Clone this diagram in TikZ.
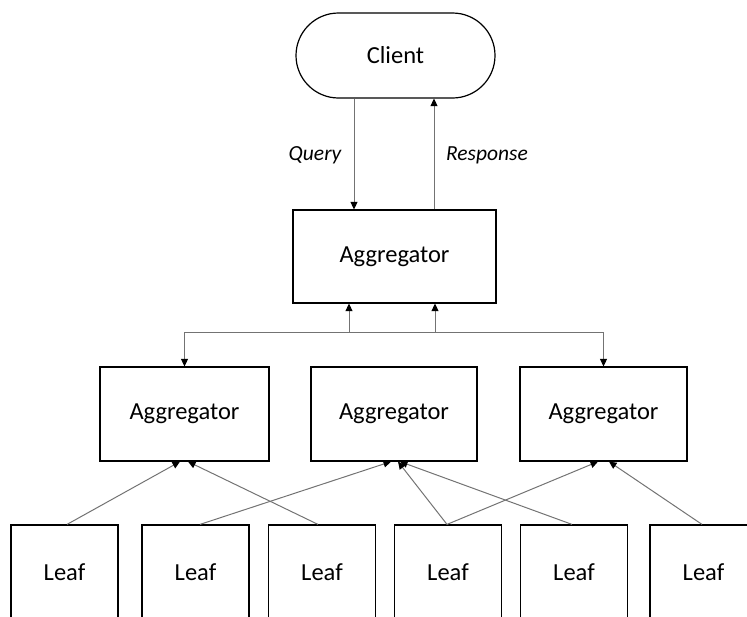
\documentclass[tikz,border=0pt]{standalone}
\usepackage{fontspec}
\setmainfont{Carlito}
\usetikzlibrary{arrows.meta,shapes.misc}

\tikzset{
  boxtext/.style={font=\fontsize{24.5}{29}\selectfont},
  labeltext/.style={font=\fontsize{21.5}{26}\selectfont\itshape},
  aggbox/.style={draw=black, line width=1.2pt, rectangle, inner sep=0pt, boxtext},
  leafbox/.style={draw=black, line width=1.2pt, rectangle, inner sep=0pt,
    minimum width=107pt, minimum height=94pt, boxtext},
  clientbox/.style={draw=black, line width=1.2pt, rounded rectangle, inner sep=0pt,
    minimum width=199pt, minimum height=85pt, boxtext},
  link/.style={draw=black!55, line width=1pt,
    -{Triangle[length=7.5pt,width=7pt,color=black]}},
  plainlink/.style={draw=black!55, line width=1pt}
}

\begin{document}
\begin{tikzpicture}[x=1pt, y=-1pt]
  \useasboundingbox (0,0) rectangle (747,616);
  \begin{scope}
    \clip (0,0) rectangle (747,616);

    % client and root aggregator
    \node[clientbox] (client) at (395.5,55.5) {Client};
    \node[aggbox, minimum width=203pt, minimum height=93pt] (root) at (394.5,256.5) {Aggregator};

    % middle aggregators
    \node[aggbox, minimum width=169pt, minimum height=94pt] (a1) at (184.5,414) {Aggregator};
    \node[aggbox, minimum width=166pt, minimum height=94pt] (a2) at (394,414) {Aggregator};
    \node[aggbox, minimum width=167pt, minimum height=94pt] (a3) at (603.5,414) {Aggregator};

    % leaves
    \node[leafbox] (l1) at (64.5,572) {Leaf};
    \node[leafbox] (l2) at (195.5,572) {Leaf};
    \node[leafbox] (l3) at (322,572) {Leaf};
    \node[leafbox] (l4) at (448,572) {Leaf};
    \node[leafbox] (l5) at (574,572) {Leaf};
    \node[leafbox] (l6) at (703.5,572) {Leaf};

    % query / response between client and root
    \draw[link] ([xshift=-41.5pt]client.south) -- ([xshift=-40.5pt]root.north);
    \draw[link] ([xshift=39.5pt]root.north) -- ([xshift=38.5pt]client.south);
    \node[labeltext] (q) at (315,155) {Query};
    \node[labeltext] (r) at (487,155) {Response};

    % fan-out bus below the root
    \coordinate (busl) at (a1.north |- 0,332);
    \coordinate (busr) at (a3.north |- 0,332);
    \coordinate (bus1) at ([xshift=-45.5pt]root.south |- 0,332);
    \coordinate (bus2) at ([xshift=40.5pt]root.south |- 0,332);
    \draw[plainlink] (busl) -- (busr);
    \draw[link] (bus1) -- ([xshift=-45.5pt]root.south);
    \draw[link] (bus2) -- ([xshift=40.5pt]root.south);
    \draw[link] (busl) -- (a1.north);
    \draw[link] (busr) -- (a3.north);

    % leaves reporting to their aggregators
    \draw[link] ([xshift=2.5pt]l1.north) -- ([xshift=-4.5pt]a1.south);
    \draw[link] ([xshift=-4pt]l3.north) -- ([xshift=3.5pt]a1.south);
    \draw[link] ([xshift=4.5pt]l2.north) -- ([xshift=-3pt]a2.south);
    \draw[link] ([xshift=-1pt]l4.north) -- ([xshift=4pt]a2.south);
    \draw[link] ([xshift=-2pt]l5.north) -- ([xshift=6pt]a2.south);
    \draw[link] ([xshift=-1pt]l4.north) -- ([xshift=-5.5pt]a3.south);
    \draw[link] ([xshift=-1.5pt]l6.north) -- ([xshift=5.5pt]a3.south);
  \end{scope}
\end{tikzpicture}
\end{document}
